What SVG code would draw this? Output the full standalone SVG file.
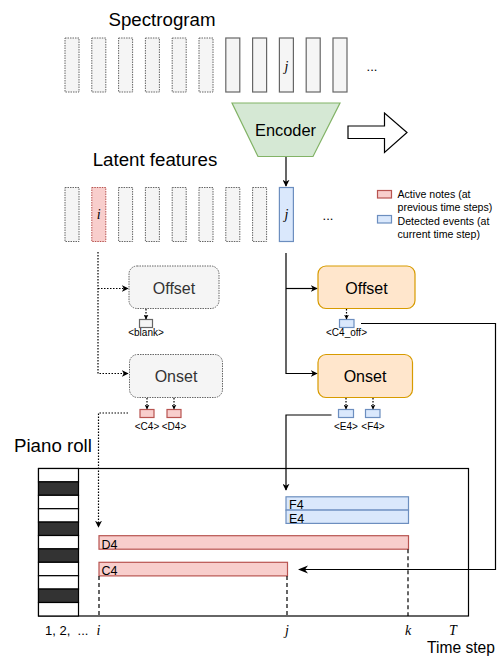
<svg xmlns="http://www.w3.org/2000/svg" width="499" height="657" viewBox="0 0 499 657">
<defs>
<marker id="ah" viewBox="0 0 10 10" refX="9" refY="5" markerWidth="7" markerHeight="7" orient="auto" markerUnits="userSpaceOnUse"><path d="M0,0 L10,5 L0,10 L3,5 Z" fill="#000"/></marker>
<marker id="ahs" viewBox="0 0 10 10" refX="9" refY="5" markerWidth="5" markerHeight="5" orient="auto" markerUnits="userSpaceOnUse"><path d="M0,0 L10,5 L0,10 L3,5 Z" fill="#000"/></marker>
<marker id="ahb" viewBox="0 0 10 10" refX="9" refY="5" markerWidth="10" markerHeight="10" orient="auto" markerUnits="userSpaceOnUse"><path d="M0,1 L10,5 L0,9 L3,5 Z" fill="#000"/></marker>
</defs>
<style>
text{font-family:"Liberation Sans",Arial,sans-serif;}
.title{font-size:18.7px;fill:#000;}
.col{fill:#f5f5f5;stroke:#666;stroke-width:1.2;}
.dcol{fill:#f5f5f5;stroke:#666;stroke-width:1;stroke-dasharray:1.5 1;}
.red{fill:#f8cecc;stroke:#b85450;stroke-width:1.2;}
.redd{fill:#f8cecc;stroke:#b85450;stroke-width:1;stroke-dasharray:1.5 1;}
.blue{fill:#dae8fc;stroke:#6c8ebf;stroke-width:1.2;}
.math{font-family:"Liberation Serif","DejaVu Serif",serif;font-style:italic;font-size:14px;}
.gbox{fill:#f5f5f5;stroke:#666;stroke-width:1;stroke-dasharray:1.5 1;}
.obox{fill:#ffe6cc;stroke:#d79b00;stroke-width:1.2;}
.boxt{font-size:16px;text-anchor:middle;}
.small{font-size:10px;text-anchor:middle;}
.leg{font-size:10.6px;fill:#000;}
.line{fill:none;stroke:#000;stroke-width:1.2;}
.dot{fill:none;stroke:#000;stroke-width:1.2;stroke-dasharray:1.5 1.5;}
.dash{fill:none;stroke:#000;stroke-width:1.2;stroke-dasharray:4 3;}
.key{stroke:#000;stroke-width:1.2;}
.bart{font-size:12.5px;}
</style>

<g id="spectrogram">
<text class="title" x="162" y="26" text-anchor="middle">Spectrogram</text>
<rect class="dcol" x="65" y="38" width="14" height="54"/>
<rect class="dcol" x="91.8" y="38" width="14" height="54"/>
<rect class="dcol" x="118.6" y="38" width="14" height="54"/>
<rect class="dcol" x="145.4" y="38" width="14" height="54"/>
<rect class="dcol" x="172.2" y="38" width="14" height="54"/>
<rect class="dcol" x="199" y="38" width="14" height="54"/>
<rect class="col" x="225.8" y="38" width="14" height="54"/>
<rect class="col" x="252.6" y="38" width="14" height="54"/>
<rect class="col" x="279.4" y="38" width="14" height="54"/>
<rect class="col" x="306.2" y="38" width="14" height="54"/>
<rect class="col" x="333" y="38" width="14" height="54"/>
<text class="math" x="286.4" y="71" text-anchor="middle">j</text>
<text x="372" y="71" font-size="13" text-anchor="middle">...</text>
</g>

<g id="encoder">
<polygon points="232,103 340,103 313,156.5 258,156.5" fill="#d5e8d4" stroke="#82b366" stroke-width="1.2"/>
<text x="285.5" y="135.5" font-size="16.4" text-anchor="middle">Encoder</text>
</g>

<g id="big-arrow">
<polygon points="348,126 384.5,126 384.5,113 407,132.5 384.5,152.5 384.5,138.5 348,138.5" fill="#fff" stroke="#000" stroke-width="1.2"/>
</g>

<g id="latent">
<text class="title" x="155" y="166" text-anchor="middle">Latent features</text>
<rect class="dcol" x="65" y="187.5" width="14" height="54"/>
<rect class="redd" x="91.8" y="187.5" width="14" height="54"/>
<rect class="dcol" x="118.6" y="187.5" width="14" height="54"/>
<rect class="dcol" x="145.4" y="187.5" width="14" height="54"/>
<rect class="dcol" x="172.2" y="187.5" width="14" height="54"/>
<rect class="dcol" x="199" y="187.5" width="14" height="54"/>
<rect class="dcol" x="225.8" y="187.5" width="14" height="54"/>
<rect class="dcol" x="252.6" y="187.5" width="14" height="54"/>
<rect class="blue" x="279.4" y="187.5" width="14" height="54"/>
<text class="math" x="98.8" y="219" text-anchor="middle">i</text>
<text class="math" x="286.4" y="219" text-anchor="middle">j</text>
<text x="328" y="220" font-size="13" text-anchor="middle">...</text>
</g>

<g id="legend">
<rect class="red" x="377.5" y="190.5" width="14" height="7.5"/>
<rect class="blue" x="377.5" y="215.5" width="14" height="7.5"/>
<text class="leg" x="397.5" y="198">Active notes (at</text>
<text class="leg" x="397.5" y="210.5">previous time steps)</text>
<text class="leg" x="397.5" y="225">Detected events (at</text>
<text class="leg" x="397.5" y="237.5">current time step)</text>
</g>

<g id="offset-prev">
<rect class="gbox" x="129" y="266" width="90" height="42.5" rx="8"/>
<text class="boxt" x="174" y="293.5" fill="#333">Offset</text>
<rect x="139.5" y="319.5" width="13" height="8" fill="#f5f5f5" stroke="#666" stroke-width="1.2"/>
<text class="small" x="146" y="336">&lt;blank&gt;</text>
</g>

<g id="onset-prev">
<rect class="gbox" x="129.5" y="354.5" width="93" height="43" rx="8"/>
<text class="boxt" x="176" y="382" fill="#333">Onset</text>
<rect class="red" x="140" y="409.5" width="14" height="8"/>
<rect class="red" x="167" y="409.5" width="14" height="8"/>
<text class="small" x="147" y="430">&lt;C4&gt;</text>
<text class="small" x="174" y="430">&lt;D4&gt;</text>
</g>

<g id="offset-cur">
<rect class="obox" x="318" y="266" width="97" height="42.5" rx="8"/>
<text class="boxt" x="366.5" y="293.5">Offset</text>
<rect class="blue" x="339.5" y="319.5" width="14.5" height="8"/>
<text class="small" x="346.5" y="336">&lt;C4_off&gt;</text>
</g>

<g id="onset-cur">
<rect class="obox" x="318" y="354.5" width="94.5" height="43" rx="8"/>
<text class="boxt" x="365" y="382">Onset</text>
<rect class="blue" x="338.5" y="409.5" width="15" height="8"/>
<rect class="blue" x="365.5" y="409.5" width="14.5" height="8"/>
<text class="small" x="346" y="430">&lt;E4&gt;</text>
<text class="small" x="373" y="430">&lt;F4&gt;</text>
</g>

<g id="piano-roll">
<text class="title" x="14" y="452">Piano roll</text>
<rect x="38.5" y="468.5" width="430" height="147.5" fill="#fff" stroke="#000" stroke-width="1.2"/>
<rect class="key" x="38.5" y="468.5" width="40" height="13.4" fill="#fff"/>
<rect class="key" x="38.5" y="481.9" width="40" height="13.4" fill="#333"/>
<rect class="key" x="38.5" y="495.3" width="40" height="13.4" fill="#fff"/>
<rect class="key" x="38.5" y="508.7" width="40" height="13.4" fill="#fff"/>
<rect class="key" x="38.5" y="522.1" width="40" height="13.4" fill="#333"/>
<rect class="key" x="38.5" y="535.5" width="40" height="13.4" fill="#fff"/>
<rect class="key" x="38.5" y="548.9" width="40" height="13.4" fill="#333"/>
<rect class="key" x="38.5" y="562.3" width="40" height="13.4" fill="#fff"/>
<rect class="key" x="38.5" y="575.7" width="40" height="13.4" fill="#fff"/>
<rect class="key" x="38.5" y="589.1" width="40" height="13.4" fill="#333"/>
<rect class="key" x="38.5" y="602.5" width="40" height="13.5" fill="#fff"/>
</g>

<g id="note-bars">
<rect class="blue" x="286" y="496.8" width="122.5" height="13.3"/>
<rect class="blue" x="286" y="510.1" width="122.5" height="13.3"/>
<rect class="red" x="99" y="535.7" width="309.5" height="13.5"/>
<rect class="red" x="99" y="562.3" width="188.5" height="13.6"/>
<text class="bart" x="289" y="509">F4</text>
<text class="bart" x="289" y="522.5">E4</text>
<text class="bart" x="101.5" y="548.5">D4</text>
<text class="bart" x="101.5" y="575">C4</text>
</g>

<g id="axis">
<text x="45" y="635" font-size="13" xml:space="preserve">1, 2,  ...</text>
<text class="math" x="98.5" y="635" text-anchor="middle">i</text>
<text class="math" x="287" y="635" text-anchor="middle">j</text>
<text class="math" x="408" y="635" text-anchor="middle">k</text>
<text class="math" x="453" y="635" text-anchor="middle">T</text>
<text x="461" y="652.5" font-size="15.6" text-anchor="middle">Time step</text>
</g>

<g id="connectors">
<line class="line" x1="286" y1="157" x2="286" y2="186" marker-end="url(#ah)"/>
<path class="dot" d="M98,252 V373.5 H128" marker-end="url(#ah)"/>
<path class="dot" d="M98,288.5 H128" marker-end="url(#ah)"/>
<path class="line" d="M286,253 V373.5 H317" marker-end="url(#ah)"/>
<path class="line" d="M286,288.5 H317" marker-end="url(#ah)"/>
<line class="dot" x1="146" y1="309" x2="146" y2="319" marker-end="url(#ahs)"/>
<line class="dot" x1="147" y1="398" x2="147" y2="409" marker-end="url(#ahs)"/>
<line class="dot" x1="174" y1="398" x2="174" y2="409" marker-end="url(#ahs)"/>
<line class="dot" x1="346.5" y1="309" x2="346.5" y2="319" marker-end="url(#ahs)"/>
<line class="dot" x1="346" y1="398" x2="346" y2="409" marker-end="url(#ahs)"/>
<line class="dot" x1="373" y1="398" x2="373" y2="409" marker-end="url(#ahs)"/>
<path class="dot" d="M128,413 H98.5 V527" marker-end="url(#ah)"/>
<path class="line" d="M331.5,415 H286 V490" marker-end="url(#ah)"/>
<path class="line" d="M361,323.5 H495.5 V569.5 H299" marker-end="url(#ahb)"/>
<line class="dash" x1="99" y1="576" x2="99" y2="616"/>
<line class="dash" x1="287" y1="576" x2="287" y2="616"/>
<line class="dash" x1="408" y1="549.2" x2="408" y2="616"/>
</g>
</svg>
